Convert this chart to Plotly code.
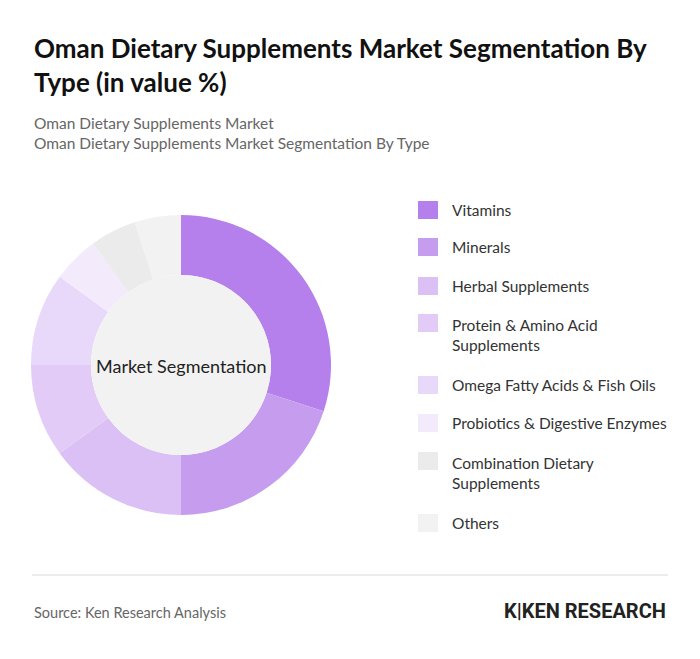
import plotly.graph_objects as go

labels = ["Vitamins", "Minerals", "Herbal Supplements", "Protein & Amino Acid Supplements",
          "Omega Fatty Acids & Fish Oils", "Probiotics & Digestive Enzymes",
          "Combination Dietary Supplements", "Others"]
legend_text = ["Vitamins", "Minerals", "Herbal Supplements", "Protein & Amino Acid<br>Supplements",
               "Omega Fatty Acids & Fish Oils", "Probiotics & Digestive Enzymes",
               "Combination Dietary<br>Supplements", "Others"]
values = [30, 20, 15, 10, 10, 5, 5, 5]
colors = ["#b580eb", "#c59cee", "#dbc0f6", "#e2ccf7", "#e8d8f9", "#f3ebfc", "#ebebeb", "#f2f2f2"]
legend_y = [210, 247, 286, 335, 385, 423, 473, 523]

W, H = 700, 659
OFF = 8
def py(y): return 1 - (y - OFF) / H
def px(x): return (x - OFF) / W

fig = go.Figure(go.Pie(labels=labels, values=values, hole=0.6, sort=False, direction="clockwise",
                       rotation=0, marker=dict(colors=colors, line=dict(width=0)),
                       textinfo="none", hoverinfo="label+percent",
                       domain=dict(x=[px(31), px(331)], y=[py(515), py(215)])))
shapes = [dict(type="circle", xref="paper", yref="paper", x0=px(91), x1=px(271), y0=py(455), y1=py(275),
               fillcolor="#f2f2f2", line=dict(width=0), layer="above"),
          dict(type="line", xref="paper", yref="paper", x0=px(32), x1=px(668), y0=py(575), y1=py(575),
               line=dict(color="#d9d9d9", width=1))]
ann = [dict(text="Market Segmentation", x=px(181), y=py(366), xref="paper", yref="paper", showarrow=False,
            xanchor="center", yanchor="middle", font=dict(size=18, color="#222", family="Lato"))]
for t, c, y in zip(legend_text, colors, legend_y):
    if "<br>" in t:
        y0, y1 = py(y - 3), py(y - 21)
    else:
        y0, y1 = py(y + 9), py(y - 9)
    shapes.append(dict(type="rect", xref="paper", yref="paper", x0=px(418), x1=px(438),
                       y0=y0, y1=y1, fillcolor=c, line=dict(width=0)))
    ann.append(dict(text=t, x=px(450), y=py(y), xref="paper", yref="paper", xanchor="left", yanchor="middle",
                    align="left", showarrow=False, font=dict(size=15.5, color="#333", family="Lato")))
ann += [
    dict(text="<b>Oman Dietary Supplements Market Segmentation By<br>Type (in value %)</b>", x=px(32), y=py(30),
         xref="paper", yref="paper", xanchor="left", yanchor="top", align="left", showarrow=False,
         font=dict(size=26, color="#111", family="Lato")),
    dict(text="Oman Dietary Supplements Market<br>Oman Dietary Supplements Market Segmentation By Type",
         x=px(32), y=py(112), xref="paper", yref="paper", xanchor="left", yanchor="top", align="left",
         showarrow=False, font=dict(size=15.5, color="#666", family="Lato")),
    dict(text="Source: Ken Research Analysis", x=px(32), y=py(612), xref="paper", yref="paper",
         xanchor="left", yanchor="middle", showarrow=False, font=dict(size=14.5, color="#666", family="Lato")),
    dict(text="<b>K|KEN RESEARCH</b>", x=px(668), y=py(611), xref="paper", yref="paper",
         xanchor="right", yanchor="middle", showarrow=False, font=dict(size=20, color="#222", family="Roboto")),
]
fig.update_layout(width=W, height=H, margin=dict(l=0, r=0, t=0, b=0), showlegend=False,
                  paper_bgcolor="white", shapes=shapes, annotations=ann)
fig.write_html("out.html")
